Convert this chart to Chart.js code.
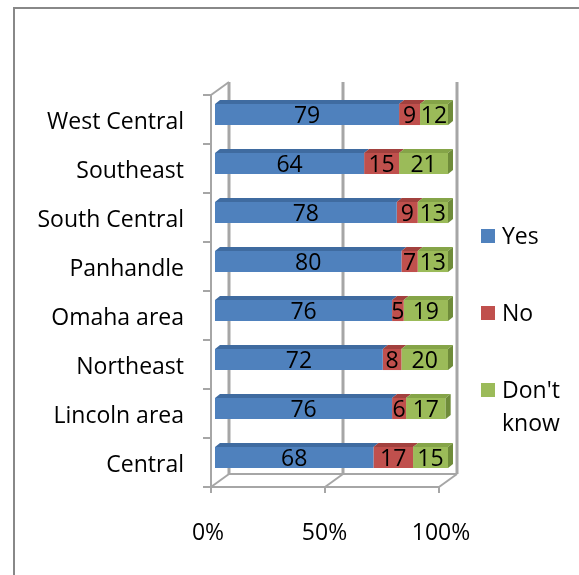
<!DOCTYPE html>
<html>
<head>
<meta charset="utf-8">
<script src="https://cdn.jsdelivr.net/npm/chart.js@4.4.1/dist/chart.umd.min.js"></script>
<style>
  html, body { margin: 0; padding: 0; background: #fff; overflow: hidden; }
  #wrap { position: relative; width: 579px; height: 575px; overflow: hidden; }
  #border { position: absolute; left: 13px; top: 7px; width: 620px; height: 620px; border: 2px solid #888; box-sizing: border-box; }
  #chart { position: absolute; left: 0; top: 0; }
  .item { position: absolute; font: 23px 'Open Sans', sans-serif; color: #000; line-height: 33px; width: 77px; }
  .swatch { position: absolute; width: 14px; height: 14px; }
</style>
</head>
<body>
<div id="wrap">
  <div id="border"></div>
  <canvas id="chart" width="579" height="575"></canvas>
  <div id="legend"></div>
</div>
<script>
const regions = ['West Central', 'Southeast', 'South Central', 'Panhandle', 'Omaha area', 'Northeast', 'Lincoln area', 'Central'];
const yesValues = [79, 64, 78, 80, 76, 72, 76, 68];
const noValues = [9, 15, 9, 7, 5, 8, 6, 17];
const dontKnowValues = [12, 21, 13, 13, 19, 20, 17, 15];
const seriesNames = ['Yes', 'No', "Don't know"];
const xTickValues = [0, 50, 100];

const frontColors = ['#4f81bd', '#c0504d', '#9bbb59'];
const topColors = ['#3f6ba0', '#a2413e', '#85a448'];
const sideColor = '#6f8c3a';

// depth of the box the bars sit in
const depthX = 18, depthY = -13;
const barDepthX = 5, barDepthY = -4;

// walls, floor and tick marks behind the bars
const frame3d = {
  id: 'frame3d',
  beforeDatasetsDraw(chart) {
    const ctx = chart.ctx;
    const x = chart.scales.x, y = chart.scales.y;
    const fl = x.getPixelForValue(0) - 4, fr = x.getPixelForValue(100) - 9;
    const ft = y.top + 5, fb = y.bottom + 5;
    const fx = v => fl + (fr - fl) * v / 100;
    const line = (x1, y1, x2, y2) => { ctx.beginPath(); ctx.moveTo(x1, y1); ctx.lineTo(x2, y2); ctx.stroke(); };

    ctx.save();
    ctx.strokeStyle = '#a6a6a6';
    ctx.lineWidth = 3;
    xTickValues.forEach(v => line(fx(v) + depthX, ft + depthY, fx(v) + depthX, fb + depthY));

    ctx.lineWidth = 2;
    line(fl, fb, fr, fb);
    line(fl + depthX, fb + depthY, fr + depthX, fb + depthY);
    xTickValues.forEach(v => {
      line(fx(v), fb, fx(v) + depthX, fb + depthY);
      line(fx(v), fb, fx(v), fb + 6);
    });
    line(fl, ft, fl, fb);
    line(fl, ft, fl + depthX, ft + depthY);
    const n = regions.length;
    for (let k = 0; k <= n; k++) {
      const yk = ft + (fb - ft) * k / n;
      line(fl - 8, yk, fl, yk);
    }
    ctx.restore();
  },
  afterDatasetsDraw(chart) {
    const ctx = chart.ctx;
    const last = chart.data.datasets.length - 1;
    ctx.save();
    chart.data.datasets.forEach((ds, i) => {
      chart.getDatasetMeta(i).data.forEach(bar => {
        const p = bar.getProps(['x', 'y', 'base', 'height'], true);
        const left = Math.min(p.base, p.x), right = Math.max(p.base, p.x);
        const top = p.y - p.height / 2, bottom = p.y + p.height / 2;
        ctx.fillStyle = topColors[i];
        ctx.beginPath();
        ctx.moveTo(left, top);
        ctx.lineTo(right, top);
        ctx.lineTo(right + barDepthX, top + barDepthY);
        ctx.lineTo(left + barDepthX, top + barDepthY);
        ctx.closePath();
        ctx.fill();
        if (i === last) {
          ctx.fillStyle = sideColor;
          ctx.beginPath();
          ctx.moveTo(right, top);
          ctx.lineTo(right + barDepthX, top + barDepthY);
          ctx.lineTo(right + barDepthX, bottom + barDepthY);
          ctx.lineTo(right, bottom);
          ctx.closePath();
          ctx.fill();
        }
      });
    });
    // value labels
    ctx.fillStyle = '#000';
    ctx.font = "23px 'Open Sans'";
    ctx.textAlign = 'center';
    ctx.textBaseline = 'middle';
    chart.data.datasets.forEach((ds, i) => {
      chart.getDatasetMeta(i).data.forEach((bar, j) => {
        const p = bar.getProps(['x', 'y', 'base'], true);
        ctx.fillText(ds.data[j], (p.x + p.base) / 2, p.y + 2);
      });
    });
    ctx.restore();
  }
};

Chart.defaults.font.family = "'Open Sans', sans-serif";
Chart.defaults.font.size = 23;
Chart.defaults.color = '#000';

new Chart(document.getElementById('chart'), {
  type: 'bar',
  data: {
    labels: regions,
    datasets: [
      { label: seriesNames[0], data: yesValues, backgroundColor: frontColors[0] },
      { label: seriesNames[1], data: noValues, backgroundColor: frontColors[1] },
      { label: seriesNames[2], data: dontKnowValues, backgroundColor: frontColors[2] }
    ]
  },
  options: {
    indexAxis: 'y',
    responsive: false,
    animation: false,
    layout: { padding: { left: 0, top: 90, right: 131, bottom: 0 } },
    datasets: { bar: { categoryPercentage: 1, barPercentage: 0.43 } },
    plugins: { legend: { display: false }, tooltip: { enabled: false } },
    scales: {
      x: {
        stacked: true,
        min: 0,
        max: 100,
        afterBuildTicks: s => { s.ticks = xTickValues.map(v => ({ value: v })); },
        afterFit: s => { s.height = 93; },
        grid: { display: false },
        border: { display: false },
        ticks: { padding: 30, labelOffset: -7, callback: v => v + '%' }
      },
      y: {
        stacked: true,
        afterFit: s => { s.width = 215; },
        grid: { display: false },
        border: { display: false },
        ticks: { padding: 23, labelOffset: 8 }
      }
    }
  },
  plugins: [frame3d]
});

// legend on the right
const legend = document.getElementById('legend');
seriesNames.forEach((name, i) => {
  const cy = 235.5 + i * 77;
  const sw = document.createElement('div');
  sw.className = 'swatch';
  sw.style.left = '481px';
  sw.style.top = (cy - 7) + 'px';
  sw.style.background = frontColors[i];
  legend.appendChild(sw);
  const item = document.createElement('div');
  item.className = 'item';
  item.style.left = '502px';
  item.style.top = (cy - 16.5) + 'px';
  item.textContent = name;
  legend.appendChild(item);
});
</script>
</body>
</html>
